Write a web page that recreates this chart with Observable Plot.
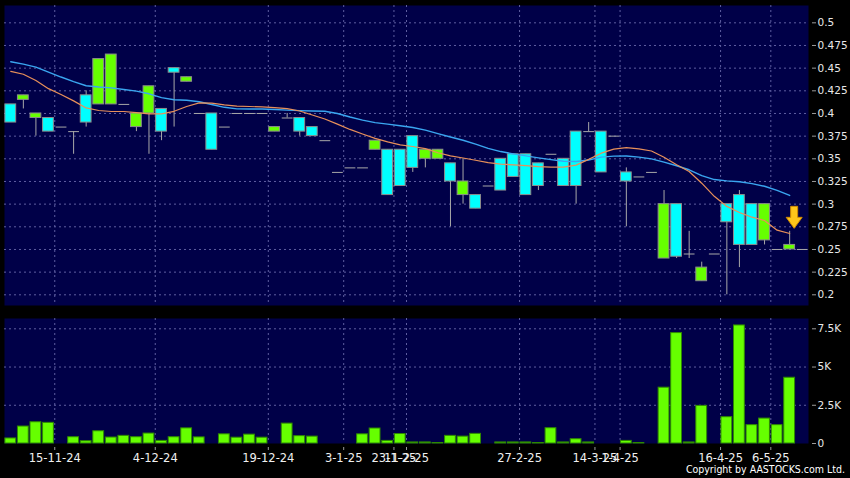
<!DOCTYPE html>
<html><head><meta charset="utf-8">
<script src="https://cdn.jsdelivr.net/npm/d3@7"></script>
<script src="https://cdn.jsdelivr.net/npm/@observablehq/plot@0.6"></script>
<style>
html,body{margin:0;padding:0;background:#000;}
#wrap{position:relative;width:850px;height:478px;overflow:hidden;background:#000;}
#price{position:absolute;left:0;top:0;}
#vol{position:absolute;left:0;top:310px;}
#copy{position:absolute;right:5px;top:463px;color:#fff;font-size:10.5px;font-family:"DejaVu Sans Condensed","DejaVu Sans",sans-serif;white-space:nowrap;}
</style></head><body>
<div id="wrap"><div id="price"></div><div id="vol"></div><div id="copy">Copyright by AASTOCKS.com Ltd.</div></div>
<script>
// ---- data (one entry per chart slot) ----
const opens  = [0.41,0.415,0.395,0.395,0.385,0.38,0.42,0.41,0.41,0.41,0.385,0.40,0.405,0.45,0.435,0.40,0.40,0.385,0.40,0.40,0.40,0.38,0.395,0.395,0.385,0.37,0.335,0.34,0.34,0.36,0.36,0.36,0.375,0.35,0.35,0.345,0.31,0.31,0.32,0.35,0.355,0.355,0.345,0.355,0.35,0.38,0.38,0.38,0.375,0.335,0.33,0.335,0.24,0.30,0.245,0.215,0.245,0.30,0.31,0.30,0.26,0.25,0.25,0.25];
const highs  = [0.41,0.42,0.40,0.395,0.385,0.38,0.425,0.46,0.465,0.41,0.40,0.43,0.405,0.45,0.44,0.40,0.40,0.385,0.40,0.40,0.40,0.385,0.40,0.395,0.385,0.37,0.335,0.34,0.34,0.37,0.36,0.36,0.375,0.36,0.36,0.345,0.35,0.31,0.32,0.35,0.355,0.355,0.345,0.355,0.35,0.38,0.39,0.38,0.375,0.34,0.33,0.335,0.315,0.30,0.27,0.236,0.245,0.30,0.315,0.30,0.30,0.25,0.27,0.25];
const lows   = [0.39,0.405,0.375,0.38,0.385,0.355,0.385,0.41,0.41,0.41,0.38,0.355,0.37,0.385,0.435,0.40,0.36,0.385,0.40,0.40,0.40,0.38,0.395,0.375,0.375,0.37,0.335,0.34,0.34,0.36,0.31,0.32,0.335,0.34,0.35,0.275,0.30,0.295,0.32,0.315,0.33,0.31,0.315,0.355,0.32,0.30,0.38,0.335,0.375,0.275,0.33,0.335,0.24,0.24,0.24,0.215,0.245,0.20,0.23,0.255,0.255,0.25,0.25,0.25];
const closes = [0.39,0.42,0.40,0.38,0.385,0.38,0.39,0.46,0.465,0.41,0.40,0.43,0.38,0.445,0.44,0.40,0.36,0.385,0.40,0.40,0.40,0.385,0.395,0.38,0.375,0.37,0.335,0.34,0.34,0.37,0.31,0.32,0.34,0.36,0.36,0.325,0.325,0.295,0.32,0.315,0.33,0.31,0.32,0.355,0.32,0.32,0.38,0.335,0.375,0.325,0.33,0.335,0.30,0.242,0.245,0.23,0.245,0.28,0.255,0.255,0.30,0.25,0.255,0.25];
const volumes = [330,1110,1390,1350,0,410,150,800,390,500,410,650,170,410,990,400,0,600,380,580,380,0,1300,480,450,0,0,0,600,980,170,620,70,70,30,500,450,630,0,70,70,70,30,1000,70,280,70,0,0,170,30,0,3650,7220,70,2460,0,1720,7720,1200,1630,1200,4300,0];
const ma10 = [0.4465,0.4433,0.4364,0.4274,0.4210,0.4139,0.4061,0.4033,0.4022,0.4022,0.4010,0.3996,0.3996,0.4024,0.4077,0.4117,0.4115,0.4095,0.4082,0.4077,0.4072,0.4064,0.4053,0.4027,0.3983,0.3939,0.3882,0.3824,0.3773,0.3725,0.3686,0.3654,0.3636,0.3613,0.3567,0.3532,0.3509,0.3484,0.3458,0.3441,0.3434,0.3424,0.3413,0.3408,0.3408,0.3430,0.3494,0.3562,0.3607,0.3623,0.3609,0.3586,0.3517,0.3435,0.3360,0.3231,0.3086,0.2975,0.2908,0.2856,0.2820,0.2713,0.2676];
const ma20 = [0.4571,0.4544,0.4511,0.4457,0.4402,0.4352,0.4306,0.4292,0.4282,0.4264,0.4246,0.4217,0.4175,0.4152,0.4146,0.4129,0.4099,0.4068,0.4051,0.4050,0.4049,0.4044,0.4037,0.4031,0.4028,0.4024,0.4000,0.3961,0.3927,0.3899,0.3883,0.3865,0.3845,0.3817,0.3777,0.3740,0.3705,0.3662,0.3615,0.3580,0.3555,0.3532,0.3510,0.3491,0.3473,0.3470,0.3487,0.3518,0.3530,0.3531,0.3518,0.3499,0.3463,0.3423,0.3379,0.3314,0.3271,0.3257,0.3247,0.3226,0.3197,0.3151,0.3096];
const dateSlots  = [4,12,21,27,31,32,41,47,49,57,61];
const dateLabels = ["15-11-24","4-12-24","19-12-24","3-1-25","23-1-25","11-2-25","27-2-25","14-3-25","1-4-25","16-4-25","6-5-25"];
const priceTicks = [0.2,0.225,0.25,0.275,0.3,0.325,0.35,0.375,0.4,0.425,0.45,0.475,0.5];
const volTicks = [0,2500,5000,7500];
const volTickLabels = ["0","2.5K","5K","7.5K"];
const arrowSlot = 62;

// ---- build tables ----
const nSlots = opens.length;
const candles = d3.range(nSlots).map(i => ({i, o: opens[i], h: highs[i], l: lows[i], c: closes[i]}));
const vols = volumes.map((v, i) => ({i, v})).filter(d => d.v > 0);
const maRows = (arr) => arr.map((v, i) => ({i, v}));
const gridX = dateSlots.map(s => s - 0.5);
const dateLabelMap = new Map(gridX.map((p, k) => [p, dateLabels[k]]));
const volLabelMap = new Map(volTicks.map((t, k) => [t, volTickLabels[k]]));

const GREEN = "#66ff00", CYAN = "#00ffff", PANEL = "#000048", GRID = "#5e5ea0";
const xDomain = [-0.5, nSlots - 0.5];
const halfW = 0.43;

const arrowSymbol = {
  draw(ctx) {
    ctx.moveTo(-3.5, -22); ctx.lineTo(3.5, -22); ctx.lineTo(3.5, -11);
    ctx.lineTo(8, -11); ctx.lineTo(0, 0); ctx.lineTo(-8, -11);
    ctx.lineTo(-3.5, -11); ctx.closePath();
  }
};

const price = Plot.plot({
  width: 850, height: 310,
  marginLeft: 4, marginRight: 42, marginTop: 5, marginBottom: 5,
  x: {domain: xDomain, axis: null},
  y: {domain: [0.1882, 0.5191], axis: null},
  style: {background: "transparent", color: "#e8e8e8", fontFamily: "DejaVu Sans", fontSize: "10.5px"},
  marks: [
    Plot.frame({fill: PANEL}),
    Plot.ruleY(priceTicks, {stroke: GRID, strokeDasharray: "2,3"}),
    Plot.ruleX(gridX, {stroke: GRID, strokeDasharray: "2,3"}),
    Plot.ruleX(candles.filter(d => d.h > d.l), {x: "i", y1: "l", y2: "h", stroke: "#a8a8a8"}),
    Plot.rect(candles.filter(d => d.o !== d.c), {
      x1: d => d.i - halfW, x2: d => d.i + halfW, y1: "o", y2: "c",
      fill: d => d.c > d.o ? GREEN : CYAN, stroke: "#8c8c8c", strokeWidth: 1
    }),
    Plot.link(candles.filter(d => d.o === d.c), {
      x1: d => d.i - halfW, x2: d => d.i + halfW, y1: "o", y2: "o", stroke: "#a8a8a8"
    }),
    Plot.line(maRows(ma20), {x: "i", y: "v", stroke: "#3aa6f0", strokeWidth: 1.4}),
    Plot.line(maRows(ma10), {x: "i", y: "v", stroke: "#e8905a", strokeWidth: 1.2}),
    Plot.dot([candles[arrowSlot]], {x: "i", y: "h", symbol: arrowSymbol, r: 6, fill: "#ffc61a", stroke: "#d08a00", strokeWidth: 1, dx: 4.5, dy: -3}),
    Plot.axisY(priceTicks, {anchor: "right", label: null, tickSize: 4, tickPadding: 2, dx: 3, stroke: "#9a9a9a", fill: "#e8e8e8", tickFormat: d => String(+d.toFixed(3))})
  ]
});
document.getElementById("price").appendChild(price);

const vol = Plot.plot({
  width: 850, height: 168,
  marginLeft: 4, marginRight: 42, marginTop: 8, marginBottom: 35,
  x: {domain: xDomain, axis: null},
  y: {domain: [0, 8174], axis: null},
  style: {background: "transparent", color: "#e8e8e8", fontFamily: "DejaVu Sans", fontSize: "10.5px"},
  marks: [
    Plot.frame({fill: PANEL}),
    Plot.ruleY(volTicks.filter(t => t > 0), {stroke: GRID, strokeDasharray: "2,3"}),
    Plot.ruleX(gridX, {stroke: GRID, strokeDasharray: "2,3"}),
    Plot.rect(vols, {x1: d => d.i - halfW, x2: d => d.i + halfW, y1: 0, y2: "v", fill: GREEN, stroke: "#2f8a00", strokeWidth: 1}),
    Plot.axisY(volTicks, {anchor: "right", label: null, tickSize: 4, tickPadding: 2, dx: 3, stroke: "#9a9a9a", fill: "#e8e8e8", tickFormat: d => volLabelMap.get(d)}),
    Plot.axisX(gridX, {anchor: "bottom", label: null, tickSize: 3, tickPadding: 3, dy: 4, stroke: "#9a9a9a", fill: "#f0f0f0", fontSize: 11.5, tickFormat: d => dateLabelMap.get(d)})
  ]
});
document.getElementById("vol").appendChild(vol);
</script>
</body></html>
